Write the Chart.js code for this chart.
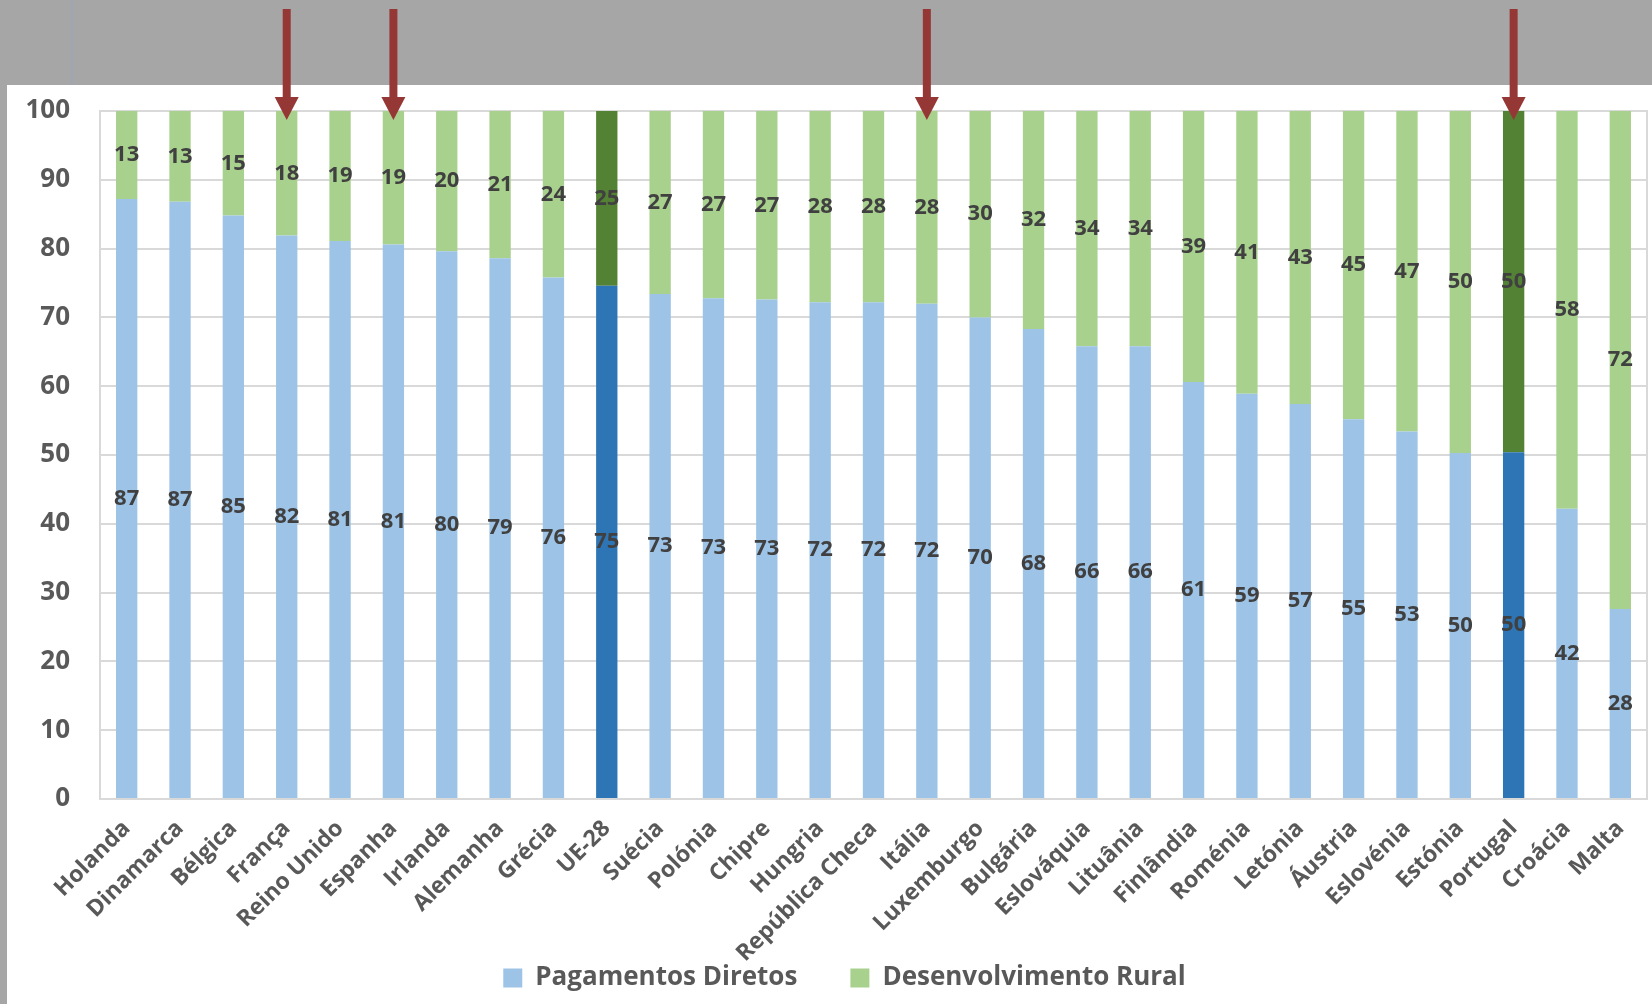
<!DOCTYPE html>
<html>
<head>
<meta charset="utf-8">
<script src="https://cdn.jsdelivr.net/npm/chart.js@4/dist/chart.umd.min.js"></script>
<style>
  html, body { margin: 0; padding: 0; background: #a6a6a6; }
  #wrap { position: absolute; left: 0; top: 0; width: 1652px; height: 1004px; }
</style>
</head>
<body>
<div id="wrap"><canvas id="c" width="1652" height="1004"></canvas></div>
<script>
const categories = ['Holanda','Dinamarca','Bélgica','França','Reino Unido','Espanha','Irlanda','Alemanha','Grécia','UE-28','Suécia','Polónia','Chipre','Hungria','República Checa','Itália','Luxemburgo','Bulgária','Eslováquia','Lituânia','Finlândia','Roménia','Letónia','Áustria','Eslovénia','Estónia','Portugal','Croácia','Malta'];
const pagamentosDiretos = [87.2,86.8,84.8,81.9,81.1,80.6,79.6,78.6,75.8,74.6,73.4,72.8,72.6,72.2,72.2,72.0,70.0,68.3,65.8,65.8,60.6,58.9,57.4,55.2,53.4,50.3,50.4,42.2,27.6];
const desenvolvimentoRural = [12.8,13.2,15.2,18.1,18.9,19.4,20.4,21.4,24.2,25.4,26.6,27.2,27.4,27.8,27.8,28.0,30.0,31.7,34.2,34.2,39.4,41.1,42.6,44.8,46.6,49.7,49.6,57.8,72.4];
const yTicks = [0,10,20,30,40,50,60,70,80,90,100];
const highlighted = ['UE-28','Portugal'];
const arrowed = ['França','Espanha','Itália','Portugal'];

const FONT = "'Open Sans', 'DejaVu Sans', sans-serif";
const colBlue = categories.map(c => highlighted.includes(c) ? '#2e75b6' : '#9dc3e6');
const colGreen = categories.map(c => highlighted.includes(c) ? '#548235' : '#a9d18e');

const chromePlugin = {
  id: 'chrome',
  afterLayout(chart) {
    // widen the label clip areas so rotated / wide tick labels are not cut
    chart.scales.x.bottom = chart.height;
    chart.scales.y.left = 0;
  },
  beforeDraw(chart) {
    const ctx = chart.ctx;
    ctx.save();
    ctx.fillStyle = '#a6a6a6';
    ctx.fillRect(0, 0, chart.width, chart.height);
    ctx.fillStyle = '#ffffff';
    ctx.fillRect(7, 85, chart.width - 7, chart.height - 85);
    ctx.strokeStyle = '#9ea6b6';
    ctx.lineWidth = 2;
    ctx.beginPath();
    ctx.moveTo(72, 0);
    ctx.lineTo(72, 85);
    ctx.stroke();
    ctx.restore();
  },
  beforeDatasetsDraw(chart) {
    const a = chart.chartArea, ctx = chart.ctx;
    ctx.save();
    ctx.strokeStyle = '#d9d9d9';
    ctx.lineWidth = 2;
    ctx.strokeRect(a.left, a.top, a.right - a.left, a.bottom - a.top);
    ctx.restore();
  },
  afterDatasetsDraw(chart) {
    const ctx = chart.ctx;
    ctx.save();
    ctx.font = 'bold 22px ' + FONT;
    ctx.fillStyle = '#404040';
    ctx.textAlign = 'center';
    ctx.textBaseline = 'middle';
    chart.data.datasets.forEach((ds, di) => {
      const meta = chart.getDatasetMeta(di);
      meta.data.forEach((el, i) => {
        const v = ds.data[i];
        ctx.fillText(String(Math.round(v)), el.x, (el.y + el.base) / 2);
      });
    });
    ctx.restore();
  },
  afterDraw(chart) {
    const ctx = chart.ctx;
    const xs = chart.scales.x;
    const top = chart.chartArea.top;
    ctx.save();
    ctx.fillStyle = '#953735';
    arrowed.forEach(name => {
      const x = xs.getPixelForValue(categories.indexOf(name));
      ctx.fillRect(x - 4, 9, 8, top - 13);
      ctx.beginPath();
      ctx.moveTo(x - 12, top - 14);
      ctx.lineTo(x + 12, top - 14);
      ctx.lineTo(x, top + 9);
      ctx.closePath();
      ctx.fill();
    });
    ctx.restore();
  }
};

new Chart(document.getElementById('c'), {
  type: 'bar',
  data: {
    labels: categories,
    datasets: [
      { label: 'Pagamentos Diretos', data: pagamentosDiretos, backgroundColor: colBlue, borderWidth: 0 },
      { label: 'Desenvolvimento Rural', data: desenvolvimentoRural, backgroundColor: colGreen, borderWidth: 0 }
    ]
  },
  options: {
    responsive: false,
    animation: false,
    devicePixelRatio: 1,
    layout: { padding: { left: 42, right: 5, top: 111, bottom: 3 } },
    datasets: { bar: { categoryPercentage: 1, barPercentage: 0.4 } },
    plugins: {
      tooltip: { enabled: false },
      legend: {
        position: 'bottom',
        labels: {
          boxWidth: 19, boxHeight: 19, padding: 53,
          color: '#595959',
          font: { family: FONT, size: 26, weight: 'bold' }
        }
      }
    },
    scales: {
      x: {
        stacked: true,
        grid: { display: false, drawTicks: false },
        border: { display: true, color: '#d9d9d9', width: 2 },
        ticks: {
          minRotation: 45, maxRotation: 45, autoSkip: false, padding: 16,
          color: '#595959',
          font: { family: FONT, size: 23, weight: 'bold' }
        },
        afterFit(s) { s.height = 113; s.paddingLeft = 0; s.paddingRight = 0; }
      },
      y: {
        stacked: true,
        min: 0, max: 100,
        afterBuildTicks(s) { s.ticks = yTicks.map(v => ({ value: v })); },
        grid: { color: '#d9d9d9', lineWidth: 2, drawTicks: false },
        border: { display: true, color: '#d9d9d9', width: 2 },
        ticks: {
          padding: 30,
          color: '#595959',
          font: { family: FONT, size: 26, weight: 'bold' }
        },
        afterFit(s) { s.width = 58; s.paddingTop = 0; s.paddingBottom = 0; }
      }
    }
  },
  plugins: [chromePlugin]
});
</script>
</body>
</html>
